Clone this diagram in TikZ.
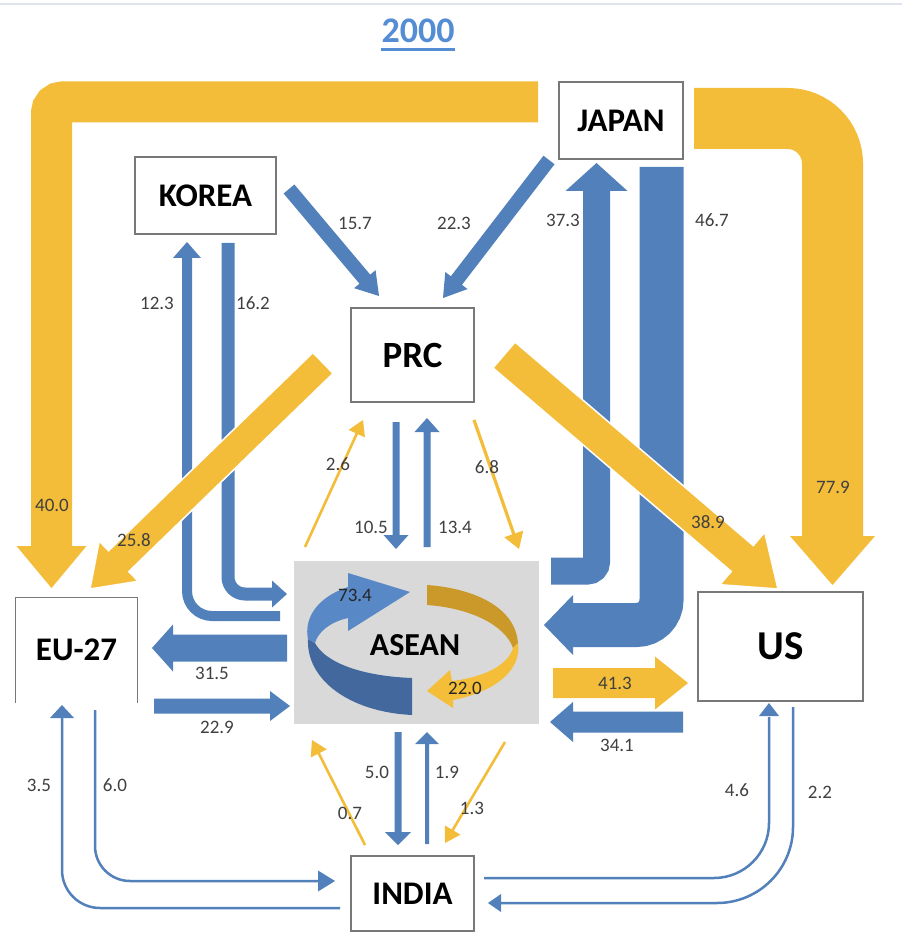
\documentclass[tikz,border=0pt]{standalone}
\usepackage{fontspec}
\setmainfont{Carlito}
\usetikzlibrary{calc}
\definecolor{ayel}{RGB}{243,189,58}
\definecolor{ablu}{RGB}{82,128,186}
\definecolor{boxgray}{RGB}{120,120,120}
\definecolor{lblgray}{RGB}{64,64,64}
\definecolor{titleblue}{RGB}{84,141,212}
\definecolor{aseangray}{RGB}{217,217,217}
\definecolor{ringtop}{RGB}{88,136,198}
\definecolor{ringside}{RGB}{66,104,158}
\definecolor{golddark}{RGB}{203,153,42}
\definecolor{goldlight}{RGB}{244,190,56}
\definecolor{topline}{RGB}{222,228,236}
% straight block arrow: [style]{start}{tip}{half shaft}{half head}{head length}
\newcommand\blkarrow[6][]{%
  \coordinate (bh) at ($(#3)!#6!(#2)$);
  \fill[#1] ($(#2)!#4!90:(#3)$) -- ($(bh)!#4!-90:(#2)$) -- ($(bh)!#5!-90:(#2)$) -- (#3)
    -- ($(bh)!#5!90:(#2)$) -- ($(bh)!#4!90:(#2)$) -- ($(#2)!#4!-90:(#3)$) -- cycle;}
% arrow head: [style]{base}{tip}{half width}
\newcommand\arrhead[4][]{%
  \fill[#1] ($(#2)!#4!90:(#3)$) -- (#3) -- ($(#2)!#4!-90:(#3)$) -- cycle;}
\tikzset{
  box/.style={draw=boxgray, line width=1.2pt, fill=white, inner sep=0pt,
    font=\bfseries\fontsize{33}{33}\selectfont},
  lbl/.style={inner sep=0pt, text=lblgray, font=\fontsize{19}{20}\selectfont},
}
\begin{document}
\begin{tikzpicture}[x=1pt,y=-1pt]
\useasboundingbox (0,0) rectangle (902,949);
\fill[white] (0,0) rectangle (902,949);
\draw[topline, line width=1.5pt] (0,4) -- (902,4);

% title
\node[inner sep=0pt, anchor=base, text=titleblue, font=\bfseries\fontsize{36}{36}\selectfont] (title) at (418,43) {2000};
\draw[titleblue, line width=2.5pt] ([yshift=-6.5pt]title.base west) -- ([yshift=-6.5pt]title.base east);

% ASEAN box (gray)
\node[fill=aseangray, minimum width=245pt, minimum height=163pt, inner sep=0pt,
  font=\bfseries\fontsize{32}{32}\selectfont] (ASEAN) at (416.5,642.5) {};

% ---------- big curved arrows ----------
% 40.0 Japan -> EU
\draw[ayel, line width=41pt, rounded corners=11pt] (538,102) -- (51.5,102) -- (51.5,547);
\arrhead[ayel]{51.5,546}{51.5,588}{35pt}
% 77.9 Japan -> US
\draw[ayel, line width=61pt, rounded corners=45pt] (694,118.5) -- (832.5,118.5) -- (832.5,537);
\arrhead[ayel]{832.5,536}{832.5,585}{42.5pt}
% 37.3 ASEAN -> Japan
\draw[ablu, line width=27pt, rounded corners=9pt] (551,571) -- (596.5,571) -- (596.5,190);
\arrhead[ablu]{596.5,191}{596.5,163}{31pt}
% 46.7 Japan -> ASEAN
\draw[ablu, line width=44pt, rounded corners=25pt] (661.5,167) -- (661.5,625) -- (572,625);
\arrhead[ablu]{573,625}{544,625}{30pt}
% 12.3 ASEAN -> Korea
\draw[ablu, line width=10pt, rounded corners=25pt] (280,616) -- (187,616) -- (187,257);
\arrhead[ablu]{187,258}{187,242}{14pt}
% 16.2 Korea -> ASEAN
\draw[ablu, line width=13pt, rounded corners=17pt] (228,243) -- (228,594) -- (273,594);
\arrhead[ablu]{272,594}{287,594}{13.5pt}
% 3.5 India -> EU
\draw[ablu, line width=2.5pt, rounded corners=38pt] (340,908) -- (62,908) -- (62,717);
\arrhead[ablu]{62,718}{62,705}{12pt}
% 6.0 EU -> India
\draw[ablu, line width=2.5pt, rounded corners=35pt] (95,710) -- (95,881) -- (319,881);
\arrhead[ablu]{318,881}{335,881}{10.5pt}
% 4.6 India -> US
\draw[ablu, line width=2.5pt, rounded corners=55pt] (484,878) -- (769,878) -- (769,717);
\arrhead[ablu]{769,716}{769,703}{10pt}
% 2.2 US -> India
\draw[ablu, line width=2.5pt, rounded corners=76pt] (793,707) -- (793,903) -- (500,903);
\arrhead[ablu]{501,903}{488,903}{9pt}

% ---------- straight blue arrows ----------
\blkarrow[ablu]{289,189}{379,296}{7pt}{14pt}{22pt}
\blkarrow[ablu]{549,160}{443,298}{7pt}{14pt}{22pt}
\blkarrow[ablu]{287,648}{152,648}{13.5pt}{23.5pt}{21pt}
\blkarrow[ablu]{154,706}{290,706}{7.5pt}{15pt}{20pt}
\blkarrow[ablu]{683,722}{550,722}{10.5pt}{20pt}{23pt}
\blkarrow[ablu]{396,422}{396,549}{3.5pt}{12.5pt}{14pt}
\blkarrow[ablu]{427,547}{427,418}{3.5pt}{12.5pt}{14pt}
\blkarrow[ablu]{398,732}{398,845}{3.5pt}{13pt}{13pt}
\blkarrow[ablu]{427,844}{427,732}{2pt}{12pt}{12pt}

% ---------- straight yellow arrows ----------
\blkarrow[ayel]{305,547}{363,420}{1.3pt}{9pt}{15pt}
\blkarrow[ayel]{474,420}{519,549}{1.6pt}{10pt}{16pt}
\blkarrow[ayel]{365,845}{312,740}{1.3pt}{9pt}{15pt}
\blkarrow[ayel]{505,742}{445,843}{1.3pt}{9pt}{15pt}
\blkarrow[ayel]{553,683}{688,683}{15pt}{26.5pt}{33pt}
\blkarrow[ayel,draw=white,line width=1.5pt]{504,355}{778,589}{17pt}{34.5pt}{47pt}
\blkarrow[ayel,draw=white,line width=1.5pt]{323,363}{90,589}{14.5pt}{28pt}{40pt}

% ---------- ASEAN ring ----------
\fill[ringside] (308,639) .. controls (306,680) and (350,712) .. (412,715) -- (412,678)
  .. controls (360,676) and (325,662) .. (315,643) -- cycle;
\fill[ringtop] (348,573) -- (410,592) -- (348,631) -- (348,618)
  .. controls (330,622) and (318,632) .. (315,643) -- (308,639)
  .. controls (304,620) and (315,598) .. (348,587) -- cycle;
\fill[golddark] (427,585) .. controls (470,588) and (515,605) .. (518,643) -- (513,648)
  .. controls (505,625) and (470,608) .. (427,605) -- cycle;
\fill[goldlight] (513,648) -- (518,643) .. controls (522,670) and (495,692) .. (453,700)
  -- (453,708) -- (427,691) -- (450,670) -- (452,681)
  .. controls (485,677) and (508,665) .. (513,648) -- cycle;
\node[inner sep=0pt, font=\bfseries\fontsize{32}{32}\selectfont] (asetxt) at (415,645) {ASEAN};

% ---------- nodes ----------
\node[box, minimum width=124pt, minimum height=77pt] (JAPAN) at (621,120.5) {JAPAN};
\node[box, minimum width=141pt, minimum height=77pt] (KOREA) at (205.5,195.5) {KOREA};
\node[box, minimum width=123pt, minimum height=94pt, font=\bfseries\fontsize{37}{37}\selectfont] (PRC) at (412.5,355) {PRC};
\node[box, draw=none, minimum width=121pt, minimum height=104pt] (EU) at (76.5,650) {EU-27};
\draw[boxgray, line width=1.2pt] (EU.south west) -- (EU.north west) -- (EU.north east) -- (EU.south east);
\node[box, minimum width=165pt, minimum height=109pt, font=\bfseries\fontsize{41}{41}\selectfont] (US) at (780.5,646.5) {US};
\node[box, minimum width=123pt, minimum height=75pt] (INDIA) at (412.5,893.5) {INDIA};

% ---------- labels ----------
\node[lbl] at (355,223) {15.7};
\node[lbl] at (454,223) {22.3};
\node[lbl] at (563,220) {37.3};
\node[lbl] at (712,220) {46.7};
\node[lbl] at (157,303) {12.3};
\node[lbl] at (253,303) {16.2};
\node[lbl] at (338,464) {2.6};
\node[lbl] at (487,467) {6.8};
\node[lbl] at (371,527) {10.5};
\node[lbl] at (455,527) {13.4};
\node[lbl] at (52,505) {40.0};
\node[lbl] at (134,540) {25.8};
\node[lbl] at (708,522) {38.9};
\node[lbl] at (833,487) {77.9};
\node[lbl] at (212,673) {31.5};
\node[lbl] at (217,727) {22.9};
\node[lbl] at (615,683) {41.3};
\node[lbl] at (617,745) {34.1};
\node[lbl, text=black!85] at (355,595) {73.4};
\node[lbl, text=black!85] at (465,688) {22.0};
\node[lbl] at (377,772) {5.0};
\node[lbl] at (447,772) {1.9};
\node[lbl] at (350,813) {0.7};
\node[lbl] at (472,808) {1.3};
\node[lbl] at (39,785) {3.5};
\node[lbl] at (115,785) {6.0};
\node[lbl] at (737,790) {4.6};
\node[lbl] at (820,792) {2.2};
\end{tikzpicture}
\end{document}
